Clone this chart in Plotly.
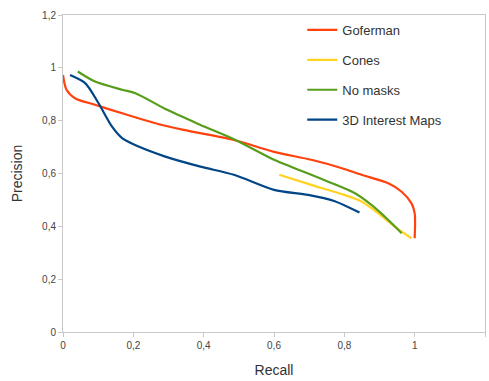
import plotly.graph_objects as go

# Data
gof_x = [0.0, 0.01, 0.034, 0.091, 0.168, 0.263, 0.343, 0.486, 0.6, 0.706, 0.791, 0.849, 0.925, 0.963, 0.991, 1.0, 1.0]
gof_y = [0.973, 0.917, 0.885, 0.86, 0.828, 0.79, 0.765, 0.727, 0.682, 0.652, 0.621, 0.595, 0.563, 0.531, 0.487, 0.45, 0.355]

cones_x = [0.615, 0.706, 0.8, 0.849, 0.896, 0.943, 0.991]
cones_y = [0.595, 0.557, 0.519, 0.494, 0.45, 0.399, 0.355]

nomask_x = [0.042, 0.091, 0.168, 0.206, 0.296, 0.391, 0.486, 0.6, 0.657, 0.754, 0.829, 0.877, 0.925, 0.963]
nomask_y = [0.986, 0.948, 0.917, 0.904, 0.841, 0.784, 0.73, 0.652, 0.621, 0.569, 0.526, 0.481, 0.424, 0.374]

im3d_x = [0.02, 0.063, 0.101, 0.139, 0.168, 0.215, 0.291, 0.391, 0.486, 0.6, 0.697, 0.771, 0.843]
im3d_y = [0.973, 0.942, 0.866, 0.778, 0.734, 0.702, 0.664, 0.626, 0.595, 0.538, 0.519, 0.496, 0.452]

tick_vals = [0, 0.2, 0.4, 0.6, 0.8, 1, 1.2]
tick_text = ["0", "0,2", "0,4", "0,6", "0,8", "1", "1,2"]

series = [
    ("Goferman", gof_x, gof_y, "#ff420e"),
    ("Cones", cones_x, cones_y, "#ffd320"),
    ("No masks", nomask_x, nomask_y, "#579d1c"),
    ("3D Interest Maps", im3d_x, im3d_y, "#004586"),
]

fig = go.Figure()
for name, xs, ys, col in series:
    fig.add_trace(go.Scatter(x=xs, y=ys, mode="lines", name=name, legendgroup=name,
                             line=dict(color=col, width=2.2, shape="spline", smoothing=0.8)))

axis_common = dict(
    tickvals=tick_vals, ticktext=tick_text, range=[0, 1.2], automargin=False,
    showgrid=False, zeroline=False, showline=True, linecolor="#c8c8c8", linewidth=1,
    mirror=True, ticks="outside", ticklen=4, tickcolor="#c8c8c8",
    tickfont=dict(family="Liberation Sans, Arial", size=10, color="#444"),
)

fig.update_layout(
    width=489, height=381,
    margin=dict(l=63, r=4, t=15, b=49),
    paper_bgcolor="white", plot_bgcolor="white",
    font=dict(family="Liberation Sans, Arial", color="#333"),
    xaxis=dict(axis_common, title=dict(text="Recall", font=dict(size=14, color="#333"), standoff=15)),
    yaxis=dict(axis_common, title=dict(text="Precision", font=dict(size=14, color="#333"), standoff=16)),
    legend=dict(x=0.567, y=1.0, xanchor="left", yanchor="top", bgcolor="rgba(0,0,0,0)",
                font=dict(size=13, color="#333"), tracegroupgap=10, itemwidth=30),
)

fig.write_html("out.html", config={"displayModeBar": False},
               post_script="document.body.style.margin='0';document.body.style.overflow='hidden';")
